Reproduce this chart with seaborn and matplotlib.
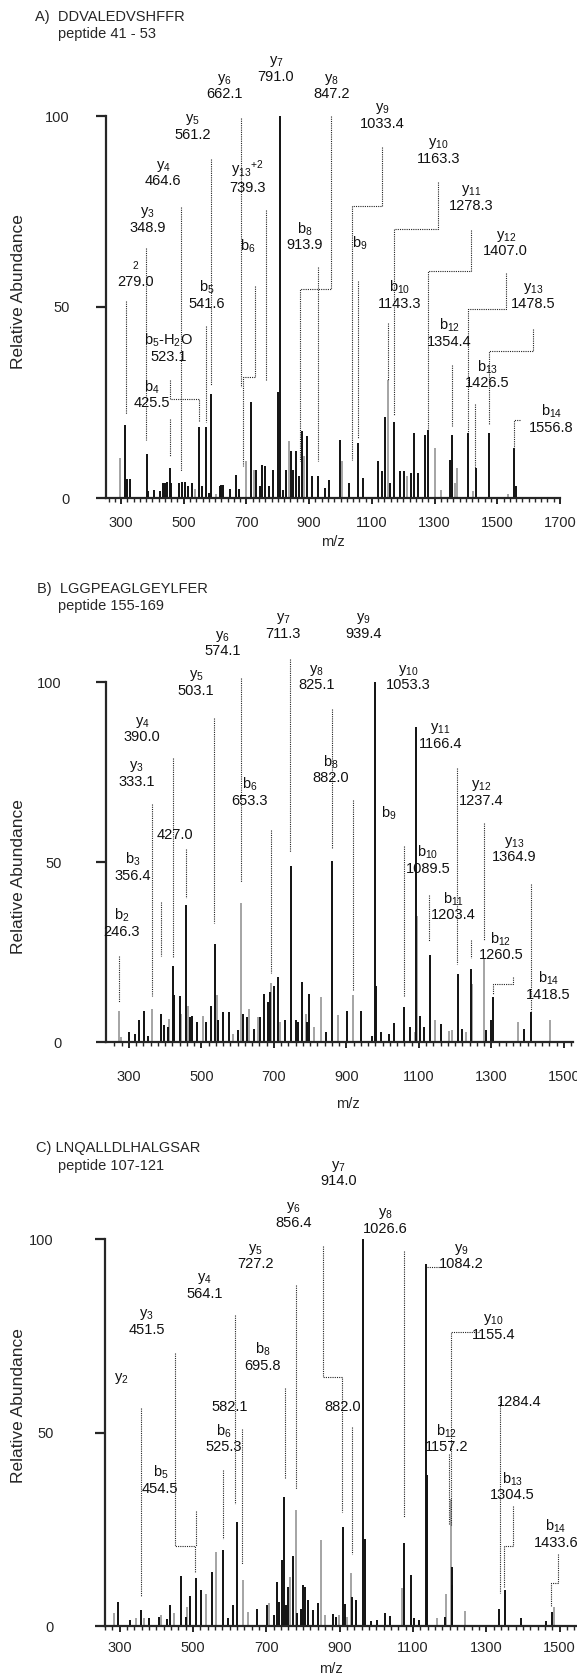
import matplotlib
matplotlib.use('Agg')
import matplotlib.pyplot as plt
import seaborn as sns

# ---------------- panel A : DDVALEDVSHFFR ----------------
a_mz = [314, 320, 327, 384, 387, 405, 424, 434, 440, 448, 455, 460, 486, 495, 504, 515, 527,
        550, 558, 570, 579, 588, 614, 620, 626, 649, 666, 676, 716, 730, 742, 750, 759, 771,
        785, 802, 808, 818, 827, 841, 850, 859, 868, 876, 893, 908, 928, 949, 963, 998, 1027,
        1056, 1073, 1120, 1132, 1143, 1158, 1172, 1190, 1204, 1225, 1233, 1248, 1268, 1280,
        1350, 1355, 1408, 1432, 1472, 1554, 1560]
a_int = [19.1, 5.0, 5.0, 11.6, 1.8, 2.2, 1.8, 3.8, 4.0, 4.3, 7.9, 4.0, 4.0, 4.3, 4.3, 3.1, 4.0,
         18.7, 3.1, 18.5, 1.2, 27.2, 3.1, 3.3, 3.5, 2.4, 6.1, 2.4, 25.2, 7.4, 3.1, 8.7, 8.3, 3.1,
         7.4, 27.8, 100, 2.2, 7.3, 12.2, 7.4, 12.2, 5.7, 17.6, 16.1, 5.7, 5.7, 2.7, 4.8, 15.2, 3.8,
         14.4, 5.3, 9.6, 7.0, 21.3, 3.8, 20.0, 7.0, 7.0, 6.6, 17.1, 6.6, 16.5, 17.8,
         10.0, 16.5, 17.0, 7.9, 17.0, 13.1, 3.1]
a_gray_mz = [297, 537, 602, 699, 724, 835, 885, 1004, 1150, 1213, 1300, 1320, 1364, 1373, 1422, 1533]
a_gray_int = [10.5, 2.4, 1.0, 9.6, 7.4, 14.8, 10.9, 9.6, 31.0, 5.7, 13.1, 2.2, 3.8, 7.9, 1.8, 1.0]

a_ion = ['y$_6$', 'y$_7$', 'y$_8$', 'y$_5$', 'y$_9$', 'y$_{10}$', 'y$_4$', 'y$_{13}$$^{+2}$', 'y$_{11}$',
         'y$_3$', 'y$_{12}$', 'b$_6$', 'b$_8$', 'b$_9$', '$^2$', 'b$_5$', 'b$_{10}$', 'y$_{13}$',
         'b$_5$-H$_2$O', 'b$_{12}$', 'b$_{13}$', 'b$_4$', 'b$_{14}$']
a_val = ['662.1', '791.0', '847.2', '561.2', '1033.4', '1163.3', '464.6', '739.3', '1278.3',
         '348.9', '1407.0', '', '913.9', '', '279.0', '541.6', '1143.3', '1478.5',
         '523.1', '1354.4', '1426.5', '425.5', '1556.8']
a_lab_x = [631, 794, 972, 527, 1132, 1312, 434, 704, 1416, 385, 1527, 705, 885, 1062, 347, 573,
           1190, 1614, 451, 1347, 1469, 399, 1672]
a_lab_y = [103.8, 108.4, 103.8, 93.3, 96.2, 87.0, 81.1, 79.4, 74.7, 68.9, 62.8, 63.6, 64.3, 64.5,
           54.6, 49.0, 49.0, 49.0, 35.1, 39.0, 28.2, 23.0, 16.5]
a_lead = [[(684, 99.4), (684, 29.1)], [(588, 88.7), (588, 29.5)], [(492, 76.3), (492, 7.0)],
          [(381, 65.4), (381, 15.2)], [(315, 51.6), (315, 22.0)],
          [(457, 30.8), (457, 25.8), (550, 25.8), (550, 20.0)], [(457, 20.8), (457, 11.1)],
          [(570, 45.0), (570, 20.0)], [(762, 75.4), (762, 30.8)],
          [(728, 55.4), (728, 31.8), (690, 31.8), (690, 8.3)], [(929, 60.6), (929, 9.6)],
          [(969, 100), (969, 54.8), (870, 54.8), (870, 9.6)],
          [(1132, 92.0), (1132, 76.5), (1038, 76.5), (1038, 10.0)], [(1056, 56.7), (1056, 15.7)],
          [(1312, 82.6), (1312, 70.4), (1170, 70.4), (1170, 21.7)], [(1151, 45.9), (1151, 30.8)],
          [(1416, 70.2), (1416, 59.5), (1280, 59.5), (1280, 17.8)],
          [(1527, 58.8), (1527, 49.4), (1405, 49.4), (1405, 17.0)], [(1355, 34.7), (1355, 18.9)],
          [(1614, 44.2), (1614, 38.6), (1472, 38.6), (1472, 19.1)], [(1428, 24.7), (1428, 7.9)],
          [(1573, 20.4), (1554, 20.4), (1554, 12.6)]]

# ---------------- panel B : LGGPEAGLGEYLFER ----------------
b_mz = [300, 318, 328, 342, 354, 388, 397, 407, 422, 425, 441, 459, 469, 475, 487, 514, 527,
        537, 546, 560, 576, 600, 616, 626, 645, 663, 673, 684, 689, 699, 712, 731, 746, 760,
        767, 778, 791, 798, 843, 861, 903, 940, 971, 978, 981, 995, 1018, 1030, 1060, 1075,
        1093, 1104, 1114, 1131, 1162, 1208, 1220, 1243, 1284, 1300, 1305, 1391, 1410]
b_int = [2.8, 2.3, 6.0, 8.7, 1.8, 7.8, 4.6, 4.1, 21.1, 13.1, 12.8, 38.1, 6.9, 7.1, 5.5, 5.5, 10.1,
         27.1, 6.0, 8.3, 8.3, 3.2, 7.8, 6.9, 3.7, 6.9, 13.3, 11.0, 13.8, 15.6, 18.1, 6.0, 48.9, 6.0,
         5.5, 16.7, 5.5, 13.3, 2.8, 50.2, 8.7, 8.7, 1.8, 100, 15.6, 2.8, 2.3, 5.3, 9.8, 4.3,
         87.6, 7.1, 4.3, 24.3, 4.9, 19.0, 3.7, 20.2, 3.2, 6.0, 12.6, 3.7, 8.3]
b_gray_mz = [274, 279, 365, 412, 445, 462, 504, 542, 586, 608, 631, 655, 691, 718, 788, 812,
             830, 877, 919, 1089, 1096, 1145, 1182, 1190, 1229, 1246, 1279, 1373, 1462]
b_gray_int = [8.7, 1.4, 9.2, 6.4, 7.8, 10.1, 7.3, 13.1, 2.3, 38.5, 9.2, 6.9, 16.5, 5.5, 7.8, 4.1,
              12.4, 7.5, 13.1, 2.8, 34.9, 6.0, 3.0, 3.2, 2.8, 16.2, 23.4, 5.5, 6.0]

b_ion = ['y$_7$', 'y$_9$', 'y$_6$', 'y$_8$', 'y$_{10}$', 'y$_5$', 'y$_4$', 'y$_{11}$', 'y$_3$',
         'b$_8$', 'b$_6$', 'y$_{12}$', 'b$_9$', '', 'y$_{13}$', 'b$_{10}$', 'b$_3$', 'b$_{11}$',
         'b$_2$', 'b$_{12}$', 'b$_{14}$']
b_val = ['711.3', '939.4', '574.1', '825.1', '1053.3', '503.1', '390.0', '1166.4', '333.1',
         '882.0', '653.3', '1237.4', '', '427.0', '1364.9', '1089.5', '356.4', '1203.4',
         '246.3', '1260.5', '1418.5']
b_lab_x = [725, 948, 558, 817, 1070, 485, 337, 1159, 321, 856, 634, 1272, 1018, 427, 1363, 1125,
           310, 1196, 281, 1326, 1457]
b_lab_y = [111.5, 111.5, 106.6, 97.1, 97.1, 95.6, 82.7, 80.9, 70.4, 71.3, 65.0, 65.1, 61.0,
           55.6, 49.4, 46.1, 44.3, 33.2, 28.6, 22.2, 11.1]
b_lead = [[(608, 101.1), (608, 44.5)], [(744, 106.3), (744, 52.8)], [(536, 89.9), (536, 33.0)],
          [(861, 92.6), (861, 54.0)], [(423, 78.8), (423, 23.6)], [(365, 66.1), (365, 12.8)],
          [(691, 59.0), (691, 19.3)], [(919, 67.3), (919, 14.2)], [(1060, 54.4), (1060, 12.8)],
          [(1206, 76.2), (1206, 21.6)], [(1279, 60.9), (1279, 28.4)], [(1410, 44.0), (1410, 8.7)],
          [(1128, 40.8), (1128, 28.0)], [(1243, 28.4), (1243, 23.4)],
          [(1360, 18.1), (1360, 16.2), (1305, 16.2), (1305, 13.3)], [(274, 23.9), (274, 11.0)],
          [(389, 39.0), (389, 23.9)], [(457, 53.5), (457, 39.9)]]

# ---------------- panel C : LNQALLDLHALGSAR ----------------
c_mz = [295, 327, 357, 381, 408, 430, 438, 466, 480, 491, 508, 523, 552, 582, 596, 610, 621, 676,
        703, 720, 730, 735, 743, 749, 755, 760, 773, 783, 795, 800, 807, 815, 828, 841, 881, 891,
        908, 914, 934, 946, 964, 968, 985, 1002, 1024, 1037, 1077, 1094, 1104, 1117, 1135, 1138,
        1188, 1206, 1208, 1334, 1352, 1394, 1463, 1480]
c_int = [6.3, 1.5, 4.1, 2.0, 2.4, 1.7, 5.4, 13.0, 2.4, 7.7, 12.4, 9.4, 14.0, 19.6, 2.0, 5.4, 27.0,
         4.4, 5.4, 2.8, 11.4, 6.3, 17.0, 33.3, 5.4, 10.1, 18.0, 3.3, 4.5, 10.5, 10.1, 6.7, 4.1, 6.0,
         3.1, 2.4, 25.7, 5.8, 7.5, 6.7, 100, 22.6, 1.3, 1.5, 3.3, 2.6, 21.5, 13.3, 2.0, 1.5, 93.5,
         39.0, 2.4, 15.3, 10.5, 4.5, 9.4, 2.0, 1.3, 3.7]
c_gray_mz = [285, 344, 367, 413, 448, 483, 536, 562, 636, 649, 707, 765, 780, 848, 861, 899, 921,
             931, 1070, 1165, 1191, 1205, 1243, 1485]
c_gray_int = [3.4, 2.0, 2.0, 2.8, 3.4, 5.0, 8.2, 19.1, 11.8, 3.7, 6.0, 12.7, 30.0, 22.3, 2.8, 2.8,
              2.4, 13.6, 9.7, 2.0, 8.2, 32.8, 3.9, 5.0]

c_ion = ['y$_7$', 'y$_6$', 'y$_8$', 'y$_5$', 'y$_9$', 'y$_4$', 'y$_3$', 'y$_{10}$', 'b$_8$', 'y$_2$',
         '', '', '', 'b$_{12}$', 'b$_6$', 'b$_5$', 'b$_{13}$', 'b$_{14}$']
c_val = ['914.0', '856.4', '1026.6', '727.2', '1084.2', '564.1', '451.5', '1155.4', '695.8', '',
         '582.1', '882.0', '1284.4', '1157.2', '525.3', '454.5', '1304.5', '1433.6']
c_lab_x = [897, 775, 1024, 671, 1233, 531, 374, 1319, 690, 304, 599, 908, 1389, 1193, 584, 411,
           1372, 1490]
c_lab_y = [113.1, 102.4, 100.8, 91.7, 91.7, 84.0, 74.8, 73.5, 65.5, 62.0, 54.8, 54.8, 56.2, 44.4,
           44.4, 33.7, 32.0, 19.7]
c_lead = [[(854, 98.2), (854, 64.3), (906, 64.3), (906, 29.4)], [(1077, 96.9), (1077, 28.1)],
          [(1138, 92.8), (1183, 92.8)], [(1279, 76.0), (1203, 76.0), (1203, 26.0)],
          [(1337, 58.6), (1337, 8.4)], [(1372, 30.9), (1372, 20.6), (1349, 20.6), (1349, 10.1)],
          [(1495, 18.7), (1495, 11.1), (1477, 11.1), (1477, 5.0)], [(782, 88.1), (782, 35.4)],
          [(614, 80.4), (614, 31.6)], [(450, 70.5), (450, 20.6), (505, 20.6), (505, 14.0)],
          [(508, 29.8), (508, 20.6)], [(359, 56.3), (359, 7.7)], [(750, 61.4), (750, 38.0)],
          [(634, 50.8), (634, 16.1)], [(582, 40.3), (582, 22.6)], [(934, 51.5), (934, 18.7)],
          [(1198, 44.4), (1198, 26.4)]]

sns.set_theme(style='ticks')
plt.rcParams['font.family'] = ['Liberation Sans', 'DejaVu Sans']
plt.rcParams['mathtext.fontset'] = 'custom'
plt.rcParams['mathtext.rm'] = 'Liberation Sans'
plt.rcParams['mathtext.it'] = 'Liberation Sans'
plt.rcParams['mathtext.default'] = 'regular'

W, H = 577, 1676
fig = plt.figure(figsize=(W / 100, H / 100), dpi=100)
fs = 10.5


def draw_panel(box, xlim, mz, inten, gmz, gint, ions, vals, lx, ly, leads,
               title, peptide, tpos, xpad, ypad, mzpos, ylpos):
    left, right, top, bottom = box
    ax = fig.add_axes([left / W, 1 - bottom / H, (right - left) / W, (bottom - top) / H])
    ax.vlines(gmz, 0, gint, color='#8c8c8c', lw=1.1)
    ax.vlines(mz, 0, inten, color='#111111', lw=1.4)
    for pts in leads:
        ax.plot([p[0] for p in pts], [p[1] for p in pts], color='#222222', lw=0.8,
                ls=(0, (1, 1)), clip_on=False)
    for ion, v, x, y in zip(ions, vals, lx, ly):
        txt = ion if not v else (v if not ion else ion + '\n' + v)
        ax.text(x, y, txt, ha='center', va='bottom', fontsize=fs, linespacing=1.05,
                color='#111111')
    ax.set_xlim(*xlim)
    ax.set_ylim(0, 100)
    sns.despine(ax=ax)
    ax.spines['left'].set_linewidth(1.6)
    ax.spines['bottom'].set_linewidth(1.6)
    ax.set_yticks([0, 50, 100])
    ax.set_xticks(range(300, int(xlim[1]) + 1, 200))
    ax.set_xticks(range(260, int(xlim[1]) + 1, 20), minor=True)
    ax.tick_params(axis='y', length=7, width=1.6, pad=ypad, labelsize=fs)
    ax.tick_params(axis='x', which='major', length=4, width=1.4, pad=xpad, labelsize=fs)
    ax.tick_params(axis='x', which='minor', length=3, width=1.0)
    ax.set_xlabel('m/z', fontsize=fs)
    ax.xaxis.set_label_coords(*mzpos)
    ax.set_ylabel('Relative Abundance', fontsize=12.5)
    ax.yaxis.set_label_coords(*ylpos)
    fig.text(tpos[0] / W, 1 - tpos[1] / H, title, fontsize=fs, va='center')
    fig.text(58 / W, 1 - tpos[2] / H, peptide, fontsize=fs, va='center')
    return ax


draw_panel((106, 560, 116, 498), (252, 1700), a_mz, a_int, a_gray_mz, a_gray_int,
           a_ion, a_val, a_lab_x, a_lab_y, a_lead,
           'A)  DDVALEDVSHFFR', 'peptide 41 - 53', (35, 17, 34), 9, 19, (0.5, -0.097), (-0.176, 0.54))
draw_panel((106, 573, 682, 1042), (237, 1525), b_mz, b_int, b_gray_mz, b_gray_int,
           b_ion, b_val, b_lab_x, b_lab_y, b_lead,
           'B)  LGGPEAGLGEYLFER', 'peptide 155-169', (37, 589, 606), 16, 25, (0.517, -0.153), (-0.171, 0.46))
draw_panel((105, 576, 1239, 1626), (266, 1545), c_mz, c_int, c_gray_mz, c_gray_int,
           c_ion, c_val, c_lab_x, c_lab_y, c_lead,
           'C) LNQALLDLHALGSAR', 'peptide 107-121', (36, 1148, 1166), 7, 30, (0.479, -0.093), (-0.168, 0.57))

fig.savefig('out.png', dpi=100)
